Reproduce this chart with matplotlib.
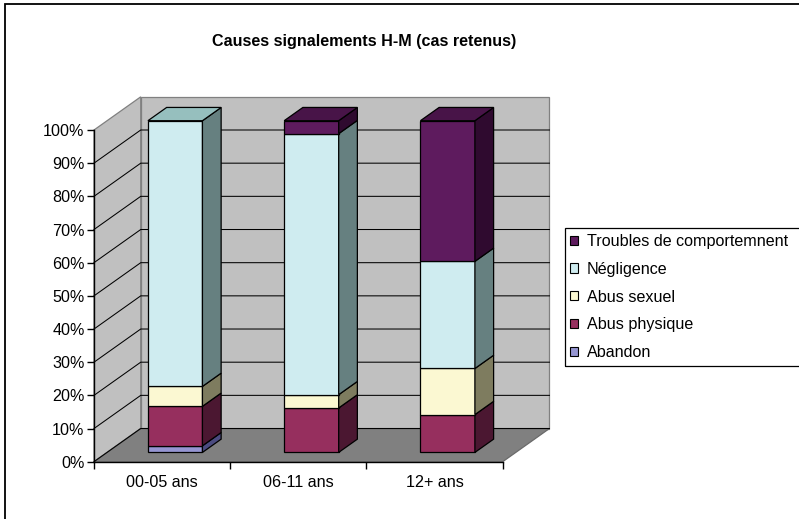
import matplotlib
matplotlib.use("Agg")
import matplotlib.pyplot as plt
from matplotlib.patches import Polygon, Rectangle, Patch

plt.rcParams['font.family'] = ['Liberation Sans', 'DejaVu Sans']

# ---- data (percent of cases per age group) ----
categories = ['00-05 ans', '06-11 ans', '12+ ans']
series_names = ['Abandon', 'Abus physique', 'Abus sexuel', 'Négligence',
                'Troubles de comportemnent']
abandon = [2.0, 0.0, 0.0]
abus_physique = [11.9, 13.4, 11.4]
abus_sexuel = [6.0, 4.0, 13.9]
negligence = [80.1, 78.7, 32.3]
troubles = [0.0, 3.9, 42.4]
y_ticks = [0, 10, 20, 30, 40, 50, 60, 70, 80, 90, 100]
y_tick_labels = ['0%', '10%', '20%', '30%', '40%', '50%', '60%', '70%',
                 '80%', '90%', '100%']
title = 'Causes signalements H-M (cas retenus)'

series = [abandon, abus_physique, abus_sexuel, negligence, troubles]

# ---- styling ----
face_colors = ['#9696D2', '#962F5E', '#FBF8D2', '#CFECF0', '#5E1B5E']
side_colors = ['#4B4B80', '#4B1731', '#7E7C5F', '#668080', '#2F0A2F']
top_colors = ['#7070A8', '#70234A', '#BDBA9E', '#96BFBE', '#481448']
wall_color = '#C0C0C0'
floor_color = '#808080'
edge_gray = '#808080'
FS = 11.6

W, H = 799, 519
fig = plt.figure(figsize=(W / 100, H / 100), dpi=100)
fig.patch.set_facecolor('white')

# front plane of the 3-D box
ax = fig.add_axes([94 / W, 1 - 461.7 / H, (502.7 - 94) / W, (461.7 - 130) / H])
ax.set_xlim(-0.5, len(categories) - 0.5)
ax.set_ylim(0, 100)
ax.patch.set_visible(False)

# depth vector of the walls (data units) and bar depth placement
DX, DY = 0.343, 10.0
F0, F1 = 0.28, 0.68
BAR_W = 0.40
x_left, x_right = -0.5, len(categories) - 0.5


def poly(pts, fc, ec, lw=0.9, z=1):
    ax.add_patch(Polygon(pts, closed=True, facecolor=fc, edgecolor=ec,
                         linewidth=lw, clip_on=False, zorder=z,
                         joinstyle='miter'))


# walls and floor
poly([(x_left + DX, DY), (x_right + DX, DY), (x_right + DX, 100 + DY),
      (x_left + DX, 100 + DY)], wall_color, edge_gray, z=0.5)
poly([(x_left, 0), (x_left + DX, DY), (x_left + DX, 100 + DY),
      (x_left, 100)], wall_color, edge_gray, z=0.5)
poly([(x_left, 0), (x_right, 0), (x_right + DX, DY), (x_left + DX, DY)],
     floor_color, '#6A6A6A', z=0.6)

# gridlines on side wall and back wall
for v in y_ticks[:-1]:
    ax.plot([x_left, x_left + DX, x_right + DX], [v, v + DY, v + DY],
            color='black', linewidth=0.75, clip_on=False, zorder=0.8)

# stacked 3-D columns
for i in range(len(categories)):
    x0 = i - BAR_W / 2 + F0 * DX
    x1 = x0 + BAR_W
    ddx = (F1 - F0) * DX
    y_f = F0 * DY
    y_b = F1 * DY
    bottom = 0.0
    top_idx = max(k for k, s in enumerate(series) if s[i] > 0)
    for k, s in enumerate(series):
        val = s[i]
        if val <= 0:
            continue
        b, t = bottom, bottom + val
        poly([(x0, b + y_f), (x1, b + y_f), (x1, t + y_f), (x0, t + y_f)],
             face_colors[k], 'black', z=2)
        poly([(x1, b + y_f), (x1 + ddx, b + y_b), (x1 + ddx, t + y_b),
              (x1, t + y_f)], side_colors[k], 'black', z=2)
        if k == top_idx:
            poly([(x0, t + y_f), (x1, t + y_f), (x1 + ddx, t + y_b),
                  (x0 + ddx, t + y_b)], top_colors[k], 'black', z=2)
        bottom = t

# axes: left spine = value axis, bottom spine = category axis
for side in ('top', 'right'):
    ax.spines[side].set_visible(False)
for side in ('left', 'bottom'):
    ax.spines[side].set_linewidth(1.0)
    ax.spines[side].set_zorder(3)

ax.set_yticks(y_ticks)
ax.set_yticklabels(y_tick_labels)
ax.tick_params(axis='y', direction='out', length=5, width=1.0, pad=1.8,
               labelsize=FS, colors='black')

ax.set_xticks([b - 0.5 for b in range(len(categories) + 1)])
ax.set_xticklabels([])
ax.set_xticks(range(len(categories)), minor=True)
ax.set_xticklabels(categories, minor=True)
ax.tick_params(axis='x', which='major', direction='out', length=5, width=1.0)
ax.tick_params(axis='x', which='minor', length=0, pad=9.5, labelsize=FS,
               colors='black')

# title
fig.text(364.5 / W, 1 - 46 / H, title, ha='center', va='baseline',
         fontsize=FS, fontweight='bold')

# legend (top series first); its box runs past the right edge of the figure
handles = [Patch(facecolor=face_colors[k], edgecolor='black', linewidth=0.8)
           for k in range(len(series_names))][::-1]
leg = fig.legend(handles=handles, labels=series_names[::-1],
                 loc='upper left', bbox_to_anchor=(565 / W, 1 - 229 / H),
                 bbox_transform=fig.transFigure, borderaxespad=0,
                 frameon=False, fontsize=FS,
                 handlelength=0.5, handleheight=0.5, handletextpad=0.55,
                 labelspacing=0.80, borderpad=0.3)
fig.add_artist(Rectangle((565 / W, 1 - 366 / H), 260 / W, 138 / H,
                         transform=fig.transFigure, fill=False,
                         edgecolor='black', linewidth=0.9))

# chart area frame
fig.add_artist(Rectangle((5 / W, -0.05), 1.1, 1.05 - 3.5 / H,
                         transform=fig.transFigure, fill=False,
                         edgecolor='black', linewidth=1.3))

fig.savefig('out.png', dpi=100)
